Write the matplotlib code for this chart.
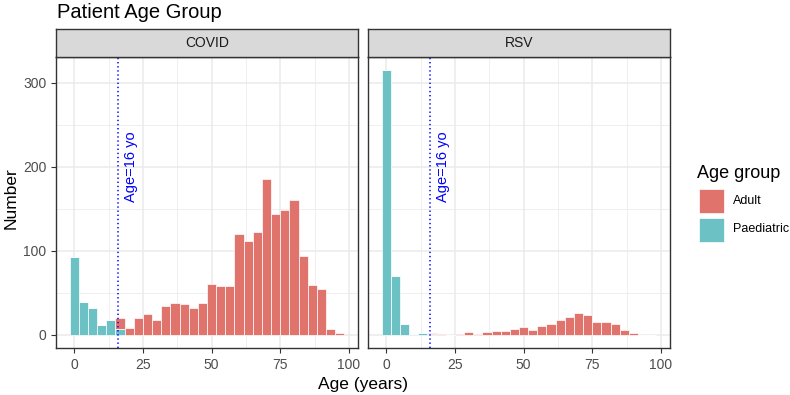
import matplotlib.pyplot as plt
import numpy as np
from matplotlib.patches import Rectangle

plt.rcParams['font.family'] = ['Liberation Sans', 'DejaVu Sans']

# histogram counts per bin (30 bins, bin centres 0, 3.33, ... 96.7)
bin_width = 100 / 30
covid_paed = [93, 39, 32, 12, 18, 7, 0, 0, 0, 0, 0, 0, 0, 0, 0,
              0, 0, 0, 0, 0, 0, 0, 0, 0, 0, 0, 0, 0, 0, 0]
covid_adult = [0, 0, 0, 0, 0, 13, 8, 20, 25, 18, 34, 38, 37, 32, 38,
               60, 58, 58, 120, 112, 122, 185, 144, 148, 160, 94, 59, 54, 7, 2]
rsv_paed = [315, 70, 13, 1, 2, 1, 0, 0, 0, 0, 0, 0, 0, 0, 0,
            0, 0, 0, 0, 0, 0, 0, 0, 0, 0, 0, 0, 0, 0, 0]
rsv_adult = [0, 0, 0, 0, 0, 1, 1, 0, 1, 3, 1, 3, 5, 4, 7,
             9, 6, 11, 13, 17, 21, 26, 24, 15, 15, 13, 6, 2, 0, 0]

panels = ['COVID', 'RSV']
counts = {'COVID': (covid_adult, covid_paed), 'RSV': (rsv_adult, rsv_paed)}
groups = ['Adult', 'Paediatric']
cutoff = 16

c_adult = '#E0746C'
c_paed = '#6CC1C5'
grey20 = '#333333'

W, H = 790, 395
fig = plt.figure(figsize=(7.9, 3.95), dpi=100)

centers = np.arange(30) * bin_width
lefts = [56, 368]
pw = 302
ptop, pbot = 57, 348
strip_top = 29

for i, name in enumerate(panels):
    ax = fig.add_axes([lefts[i] / W, 1 - pbot / H, pw / W, (pbot - ptop) / H])
    adult, paed = counts[name]
    ax.bar(centers, paed, width=bin_width, color=c_paed, edgecolor='white', linewidth=0.5, zorder=3)
    ax.bar(centers, adult, width=bin_width, bottom=paed, color=c_adult, edgecolor='white', linewidth=0.5, zorder=3)
    ax.axvline(cutoff, color='blue', linestyle=(0, (0.9, 1.8)), linewidth=1.1, zorder=4)
    ax.text(cutoff + 4.5, 200, 'Age=16 yo', color='blue', rotation=90, ha='center', va='center', fontsize=10.5)

    ax.set_xlim(-6.67, 103.33)
    ax.set_ylim(-15.75, 330.75)
    ax.set_xticks([0, 25, 50, 75, 100])
    ax.set_xticks([12.5, 37.5, 62.5, 87.5], minor=True)
    ax.set_yticks([0, 100, 200, 300])
    ax.set_yticks([50, 150, 250], minor=True)
    ax.grid(which='major', color='#EBEBEB', linewidth=1.1, zorder=0)
    ax.grid(which='minor', color='#EBEBEB', linewidth=0.55, zorder=0)
    ax.set_axisbelow(True)
    for s in ax.spines.values():
        s.set_color(grey20)
        s.set_linewidth(1.0)
    ax.tick_params(which='minor', length=0)
    ax.tick_params(which='major', length=3.5, width=0.8, color=grey20,
                   labelsize=10, labelcolor='#4D4D4D', pad=3.5)
    if i > 0:
        ax.tick_params(axis='y', left=False, labelleft=False)

    # facet strip
    sax = fig.add_axes([lefts[i] / W, 1 - ptop / H, pw / W, (ptop - strip_top) / H])
    sax.set_facecolor('#D9D9D9')
    sax.set_xticks([])
    sax.set_yticks([])
    for s in sax.spines.values():
        s.set_color(grey20)
        s.set_linewidth(1.0)
    sax.text(0.5, 0.5, name, ha='center', va='center', fontsize=10, color='#1A1A1A', transform=sax.transAxes)

fig.text(57 / W, 1 - 13 / H, 'Patient Age Group', fontsize=14.5, ha='left', va='center', color='black')
fig.text(363 / W, 1 - 384 / H, 'Age (years)', fontsize=12.5, ha='center', va='center')
fig.text(11 / W, 1 - 198 / H, 'Number', fontsize=12.5, ha='center', va='center', rotation=90)

# legend
fig.text(697 / W, 1 - 174 / H, 'Age group', fontsize=13, ha='left', va='center')
key_cols = [c_adult, c_paed]
for j, g in enumerate(groups):
    y0 = 189 + j * 28.5
    fig.add_artist(Rectangle((699 / W, 1 - (y0 + 24) / H), 25 / W, 24 / H,
                             facecolor=key_cols[j], edgecolor='white', linewidth=0.5,
                             transform=fig.transFigure))
    fig.text(733 / W, 1 - (y0 + 12) / H, g, fontsize=9, ha='left', va='center')

fig.savefig('out.png', dpi=100)
